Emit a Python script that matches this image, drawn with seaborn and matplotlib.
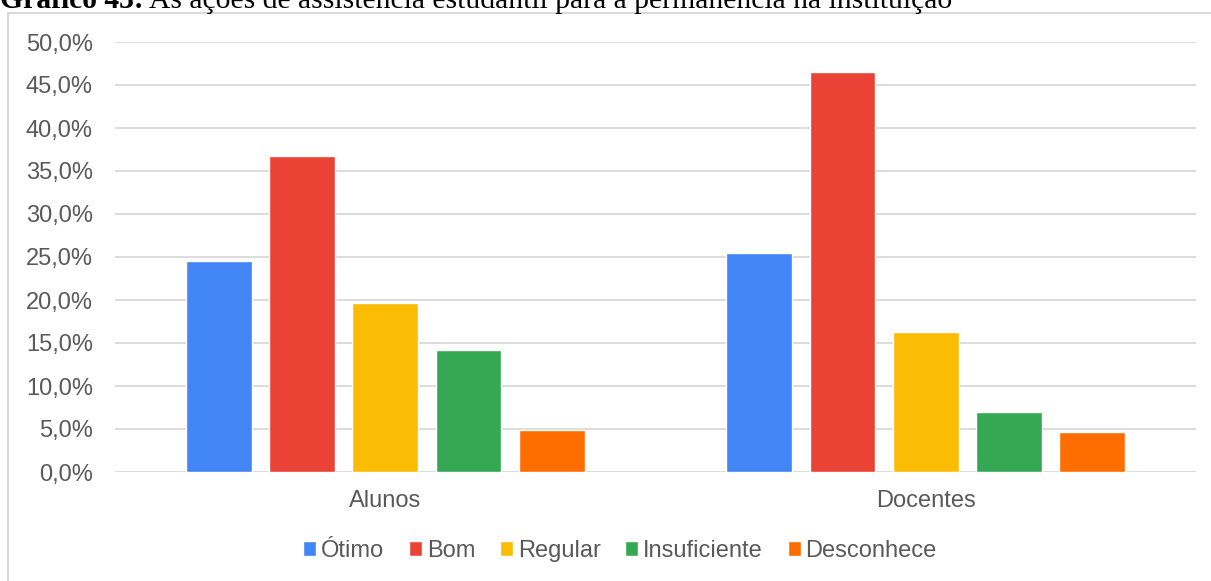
import matplotlib
matplotlib.use("Agg")
import matplotlib.pyplot as plt
import matplotlib.patches as mpatches
from matplotlib.ticker import FuncFormatter
import pandas as pd
import seaborn as sns

# Survey answers, share of respondents per group
groups = ["Alunos", "Docentes"]
ratings = ["Ótimo", "Bom", "Regular", "Insuficiente", "Desconhece"]
alunos = [0.245, 0.368, 0.196, 0.142, 0.049]
docentes = [0.255, 0.465, 0.163, 0.070, 0.047]
palette = ["#4285F4", "#EA4335", "#FBBC04", "#34A853", "#FF6D01"]

df = pd.DataFrame({
    "grupo": [groups[0]] * len(ratings) + [groups[1]] * len(ratings),
    "avaliacao": ratings + ratings,
    "valor": alunos + docentes,
})

sns.set_theme(style="white")
plt.rcParams["font.family"] = ["Liberation Sans", "DejaVu Sans"]

fig = plt.figure(figsize=(12.11, 5.81), dpi=100)
ax = fig.add_axes([115 / 1211, 1 - 472 / 581, (1196 - 115) / 1211, (472 - 42) / 581])

sns.barplot(data=df, x="grupo", y="valor", hue="avaliacao", hue_order=ratings,
            order=groups, palette=palette, width=0.77, gap=0.21,
            saturation=1, ax=ax, legend=True, zorder=3)

ax.set_ylim(0, 0.5)
ax.set_xlim(-0.5, 1.5)
ax.set_yticks([i * 0.05 for i in range(11)])
ax.yaxis.set_major_formatter(FuncFormatter(lambda v, p: f"{v * 100:.1f}%".replace(".", ",")))
ax.grid(axis="y", color="#d9d9d9", lw=1.3, zorder=0)
ax.grid(axis="x", visible=False)
for s in ax.spines.values():
    s.set_visible(False)
ax.tick_params(axis="both", length=0, labelsize=17, colors="#595959")
ax.tick_params(axis="y", pad=16)
ax.tick_params(axis="x", pad=13)
ax.set_xlabel("")
ax.set_ylabel("")

sns.move_legend(ax, "center", bbox_to_anchor=(620 / 1211, 1 - 551 / 581),
                bbox_transform=fig.transFigure, ncol=5, frameon=False, title=None,
                fontsize=17, handlelength=0.55, handleheight=0.6,
                handletextpad=0.2, columnspacing=1.05)
for t in ax.get_legend().get_texts():
    t.set_color("#595959")

# Chart frame
fig.add_artist(mpatches.Rectangle((8 / 1211, -0.05), 1.1, 1 - 13 / 581 + 0.05,
                                  transform=fig.transFigure, fill=False,
                                  ec="#d9d9d9", lw=1.5))

# Caption above the chart
title_y = 1 - 8 / 581
t1 = fig.text(0.0, title_y, "Gráfico 43:", family="Liberation Serif",
              weight="bold", fontsize=21.3, color="black", va="baseline")
fig.canvas.draw()
bb = t1.get_window_extent()
fig.text(bb.x1 / fig.bbox.width + 5 / 1211, title_y,
         "As ações de assistência estudantil para a permanência na instituição",
         family="Liberation Serif", fontsize=21.3, color="black", va="baseline")

fig.savefig("out.png", dpi=100)
